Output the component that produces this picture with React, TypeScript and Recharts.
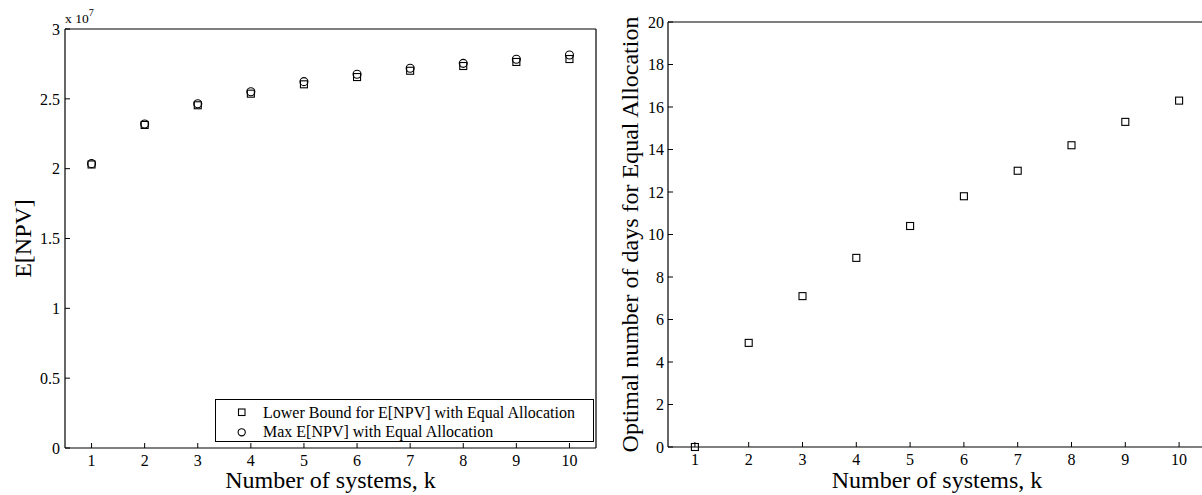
import React from 'react';
import { ScatterChart, Scatter, XAxis, YAxis, Label } from 'recharts';

const systems = [1, 2, 3, 4, 5, 6, 7, 8, 9, 10];
const lowerBoundNPV = [2.03e7, 2.313e7, 2.454e7, 2.537e7, 2.604e7, 2.656e7, 2.701e7, 2.735e7, 2.764e7, 2.785e7];
const maxNPV = [2.036e7, 2.32e7, 2.465e7, 2.551e7, 2.623e7, 2.676e7, 2.719e7, 2.754e7, 2.783e7, 2.814e7];
const optimalDays = [0, 4.9, 7.1, 8.9, 10.4, 11.8, 13.0, 14.2, 15.3, 16.3];

const xTicks = [1, 2, 3, 4, 5, 6, 7, 8, 9, 10];
const npvTicks = [0, 0.5e7, 1e7, 1.5e7, 2e7, 2.5e7, 3e7];
const dayTicks = [0, 2, 4, 6, 8, 10, 12, 14, 16, 18, 20];

const legendLabels = ['Lower Bound for E[NPV] with Equal Allocation', 'Max E[NPV] with Equal Allocation'];
const xTitle = 'Number of systems, k';
const npvTitle = 'E[NPV]';
const daysTitle = 'Optimal number of days for Equal Allocation';

const FONT = '"Liberation Serif", "Times New Roman", Times, serif';

const lowerData = systems.map((k, i) => ({ k, v: lowerBoundNPV[i] }));
const maxData = systems.map((k, i) => ({ k, v: maxNPV[i] }));
const daysData = systems.map((k, i) => ({ k, v: optimalDays[i] }));

const SquareMark = (props: any) => {
  const { cx, cy } = props;
  if (cx == null || cy == null) return <g />;
  return <rect x={cx - 3.5} y={cy - 3.5} width={7} height={7} fill="none" stroke="#000" strokeWidth={1.1} />;
};
const CircleMark = (props: any) => {
  const { cx, cy } = props;
  if (cx == null || cy == null) return <g />;
  return <circle cx={cx} cy={cy} r={4} fill="none" stroke="#000" strokeWidth={1.1} />;
};

const tickStyle = { fill: '#000', fontSize: 16, fontFamily: FONT, style: { fontFamily: FONT } };
const axisLineStyle = { stroke: '#000', strokeWidth: 1.2 };
const tickLineStyle = { stroke: '#000', strokeWidth: 1 };
const titleStyle = { fontSize: 24, fontFamily: FONT, fill: '#000' };

export default function App() {
  return (
    <div style={{ position: 'absolute', left: 0, top: 0, width: 1202, height: 495, overflow: 'hidden', background: '#fff', fontFamily: FONT }}>
      <div style={{ position: 'absolute', left: 0, top: 0 }}>
        <ScatterChart width={600} height={495} margin={{ top: 28, right: 3, bottom: 0, left: 0 }} style={{ fontFamily: FONT }}>
          <XAxis xAxisId="b" type="number" dataKey="k" domain={[0.5, 10.5]} ticks={xTicks} interval={0}
            height={47} tickSize={-5} tickMargin={12} tick={tickStyle} axisLine={axisLineStyle} tickLine={tickLineStyle}>
            <Label value={xTitle} position="insideBottom" offset={7} style={titleStyle} />
          </XAxis>
          <XAxis xAxisId="t" orientation="top" type="number" dataKey="k" domain={[0.5, 10.5]} ticks={xTicks} interval={0}
            height={1} tickSize={-5} tick={false} axisLine={axisLineStyle} tickLine={tickLineStyle} />
          <YAxis yAxisId="l" type="number" dataKey="v" domain={[0, 3e7]} ticks={npvTicks} interval={0}
            width={65} tickSize={-5} tickMargin={10} tick={tickStyle} axisLine={axisLineStyle} tickLine={tickLineStyle}
            tickFormatter={(v: number) => String(Math.round((v / 1e7) * 10) / 10)}>
            <Label value={npvTitle} angle={-90} position="insideLeft" offset={22} style={{ ...titleStyle, textAnchor: 'middle' }} />
          </YAxis>
          <YAxis yAxisId="r" orientation="right" type="number" dataKey="v" domain={[0, 3e7]} ticks={npvTicks} interval={0}
            width={1} tickSize={-5} tick={false} axisLine={axisLineStyle} tickLine={tickLineStyle} />
          <Scatter xAxisId="b" yAxisId="l" data={lowerData} dataKey="v" shape={SquareMark} isAnimationActive={false} />
          <Scatter xAxisId="b" yAxisId="l" data={maxData} dataKey="v" shape={CircleMark} isAnimationActive={false} />
        </ScatterChart>
        <svg width={600} height={495} style={{ position: 'absolute', left: 0, top: 0, pointerEvents: 'none', fontFamily: FONT }}>
          <text x={65} y={23} fontSize={13.5} fill="#000">
            x 10<tspan fontSize={10} dy={-7}>7</tspan>
          </text>
          <rect x={215.5} y={399.5} width={378} height={42} fill="#fff" stroke="#000" strokeWidth={1} />
          <rect x={238.5} y={409} width={6.5} height={6.5} fill="none" stroke="#000" strokeWidth={1.1} />
          <circle cx={241.7} cy={432.3} r={3.6} fill="none" stroke="#000" strokeWidth={1.1} />
          <text x={263} y={417.5} fontSize={16} fill="#000">{legendLabels[0]}</text>
          <text x={263} y={437} fontSize={16} fill="#000">{legendLabels[1]}</text>
        </svg>
      </div>
      <div style={{ position: 'absolute', left: 600, top: 0 }}>
        <ScatterChart width={610} height={495} margin={{ top: 21, right: 3, bottom: 0, left: 0 }} style={{ fontFamily: FONT }}>
          <XAxis xAxisId="b" type="number" dataKey="k" domain={[0.5, 10.5]} ticks={xTicks} interval={0}
            height={48} tickSize={-5} tickMargin={12} tick={tickStyle} axisLine={axisLineStyle} tickLine={tickLineStyle}>
            <Label value={xTitle} position="insideBottom" offset={7} style={titleStyle} />
          </XAxis>
          <XAxis xAxisId="t" orientation="top" type="number" dataKey="k" domain={[0.5, 10.5]} ticks={xTicks} interval={0}
            height={1} tickSize={-5} tick={false} axisLine={axisLineStyle} tickLine={tickLineStyle} />
          <YAxis yAxisId="l" type="number" dataKey="v" domain={[0, 20]} ticks={dayTicks} interval={0}
            width={68} tickSize={-5} tickMargin={9} tick={tickStyle} axisLine={axisLineStyle} tickLine={tickLineStyle}>
            <Label value={daysTitle} angle={-90} position="insideLeft" offset={29.5} style={{ ...titleStyle, textAnchor: 'middle' }} />
          </YAxis>
          <YAxis yAxisId="r" orientation="right" type="number" dataKey="v" domain={[0, 20]} ticks={dayTicks} interval={0}
            width={1} tickSize={-5} tick={false} axisLine={axisLineStyle} tickLine={tickLineStyle} />
          <Scatter xAxisId="b" yAxisId="l" data={daysData} dataKey="v" shape={SquareMark} isAnimationActive={false} />
        </ScatterChart>
      </div>
    </div>
  );
}
